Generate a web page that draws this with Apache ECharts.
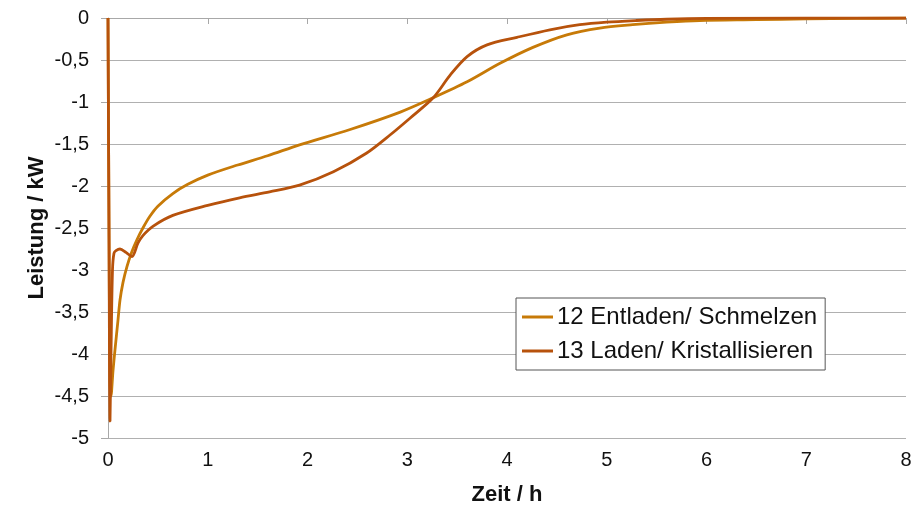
<!DOCTYPE html>
<html>
<head>
<meta charset="utf-8">
<script src="https://cdn.jsdelivr.net/npm/echarts@6/dist/echarts.min.js"></script>
<style>
  html, body { margin: 0; padding: 0; background: #fff; }
  #chart { width: 912px; height: 508px; }
</style>
</head>
<body>
<div id="chart"></div>
<script>
// 12 Entladen/ Schmelzen
const timeEntladen = [0, 0.01, 0.02, 0.03, 0.05, 0.07, 0.1, 0.12, 0.15, 0.19, 0.24, 0.29, 0.35, 0.42, 0.5, 0.65, 0.8, 1.0, 1.3, 1.6, 1.92, 2.42, 2.93, 3.26, 3.6, 3.93, 4.26, 4.6, 4.93, 5.26, 5.6, 5.93, 6.5, 7, 7.5, 8];
const powerEntladen = [0, -2.5, -4.3, -4.5, -4.2, -3.95, -3.6, -3.36, -3.15, -2.96, -2.78, -2.64, -2.5, -2.36, -2.24, -2.09, -1.98, -1.87, -1.75, -1.64, -1.51, -1.33, -1.12, -0.95, -0.76, -0.54, -0.35, -0.2, -0.12, -0.08, -0.05, -0.03, -0.02, -0.01, -0.005, 0];

// 13 Laden/ Kristallisieren
const timeLaden = [0, 0.01, 0.02, 0.03, 0.045, 0.06, 0.08, 0.12, 0.18, 0.24, 0.3, 0.35, 0.45, 0.65, 1.0, 1.32, 1.62, 1.92, 2.26, 2.59, 2.83, 3.03, 3.26, 3.43, 3.6, 3.8, 4.1, 4.43, 4.73, 5.0, 5.3, 5.6, 6, 7, 8];
const powerLaden = [0, -2.5, -4.8, -4.0, -3.0, -2.8, -2.77, -2.75, -2.79, -2.84, -2.68, -2.59, -2.48, -2.35, -2.23, -2.14, -2.07, -1.99, -1.83, -1.61, -1.39, -1.19, -0.95, -0.68, -0.46, -0.32, -0.23, -0.14, -0.08, -0.05, -0.03, -0.015, -0.005, 0, 0];

const xTicks = [0, 1, 2, 3, 4, 5, 6, 7, 8];
const yTicks = [-5, -4.5, -4, -3.5, -3, -2.5, -2, -1.5, -1, -0.5, 0];

const seriesNames = ['12 Entladen/ Schmelzen', '13 Laden/ Kristallisieren'];
const colors = ['#C77A08', '#B7520C'];

const font = 'Liberation Sans, Arial, sans-serif';
const toPairs = (xs, ys) => xs.map((x, i) => [x, ys[i]]);

const chart = echarts.init(document.getElementById('chart'));

const option = {
    animation: false,
    backgroundColor: '#fff',
    grid: { left: 108, right: 6, top: 18, bottom: 70, containLabel: false, outerBoundsMode: 'none' },
    legend: {
        orient: 'vertical',
        left: 516,
        top: 298,
        padding: [7, 8, 7, 6],
        itemGap: 10,
        itemWidth: 31,
        itemHeight: 3,
        icon: 'rect',
        backgroundColor: '#fff',
        borderColor: '#555',
        borderWidth: 1,
        textStyle: { fontFamily: font, fontSize: 24, color: '#111', padding: [0, 0, 0, -1] },
        data: seriesNames
    },
    xAxis: [
        {
            type: 'value',
            position: 'bottom',
            min: xTicks[0],
            max: xTicks[xTicks.length - 1],
            interval: 1,
            name: 'Zeit / h',
            nameLocation: 'middle',
            nameGap: 46,
            nameTextStyle: { fontFamily: font, fontSize: 22, fontWeight: 'bold', color: '#111' },
            axisLine: { show: false },
            axisTick: { show: false },
            splitLine: { show: false },
            axisLabel: { fontFamily: font, fontSize: 20, color: '#111', margin: 12 }
        },
        {
            type: 'value',
            position: 'top',
            min: xTicks[0],
            max: xTicks[xTicks.length - 1],
            interval: 1,
            axisLine: { show: true, lineStyle: { color: '#a8a8a8', width: 1 } },
            axisTick: { show: true, inside: true, length: 6, lineStyle: { color: '#a8a8a8' } },
            axisLabel: { show: false },
            splitLine: { show: false }
        }
    ],
    yAxis: {
        type: 'value',
        min: yTicks[0],
        max: yTicks[yTicks.length - 1],
        interval: 0.5,
        name: 'Leistung / kW',
        nameLocation: 'middle',
        nameMoveOverlap: false,
        nameGap: 60,
        nameTextStyle: { fontFamily: font, fontSize: 22, fontWeight: 'bold', color: '#111' },
        axisLine: { show: true, lineStyle: { color: '#a8a8a8', width: 1 } },
        axisTick: { show: true, length: 7, lineStyle: { color: '#a8a8a8' } },
        axisLabel: {
            fontFamily: font, fontSize: 20, color: '#111', margin: 19,
            formatter: v => String(v).replace('.', ',')
        },
        splitLine: { show: true, lineStyle: { color: '#b0b0b0', width: 1 } }
    },
    series: [
        {
            name: seriesNames[0],
            type: 'line',
            symbol: 'none',
            smooth: 0.3,
            data: toPairs(timeEntladen, powerEntladen),
            lineStyle: { color: colors[0], width: 2.8 },
            itemStyle: { color: colors[0] }
        },
        {
            name: seriesNames[1],
            type: 'line',
            symbol: 'none',
            smooth: 0.3,
            data: toPairs(timeLaden, powerLaden),
            lineStyle: { color: colors[1], width: 2.8 },
            itemStyle: { color: colors[1] }
        }
    ]
};

chart.setOption(option);
</script>
</body>
</html>
